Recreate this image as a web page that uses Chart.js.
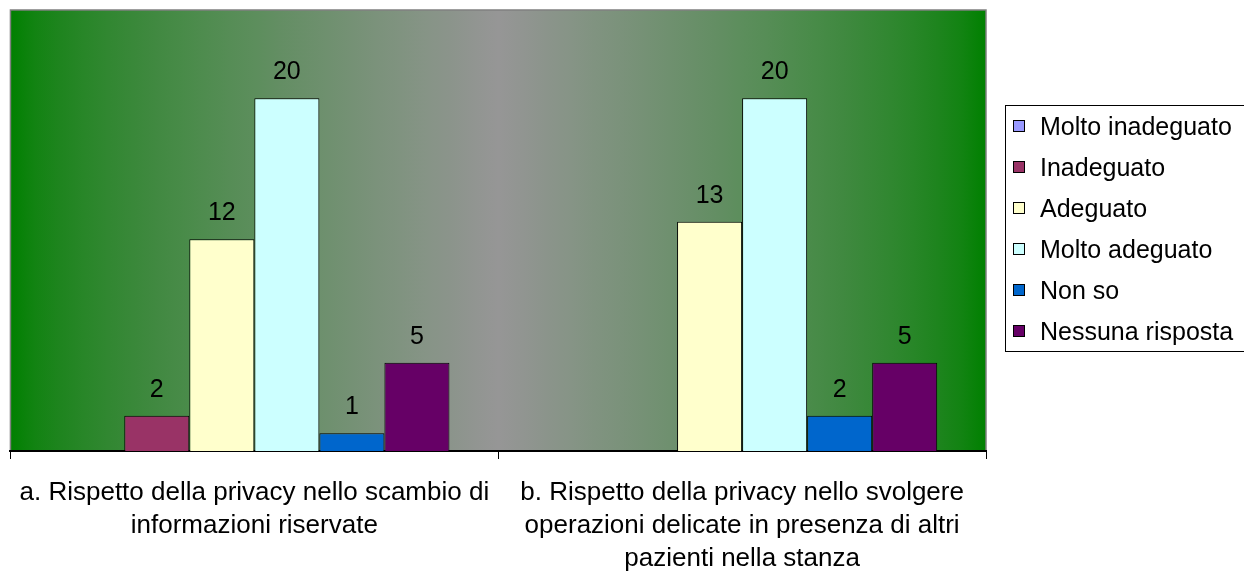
<!DOCTYPE html>
<html>
<head>
<meta charset="utf-8">
<script src="https://cdn.jsdelivr.net/npm/chart.js@4/dist/chart.umd.min.js"></script>
<style>
  html, body { margin: 0; padding: 0; background: #ffffff; }
  canvas { display: block; }
</style>
</head>
<body>
<canvas id="chart" width="1244" height="571"></canvas>
<script>
// Categories (multi-line axis labels)
const categories = [
  ["a. Rispetto della privacy nello scambio di", "informazioni riservate"],
  ["b. Rispetto della privacy nello svolgere", "operazioni delicate in presenza di altri", "pazienti nella stanza"]
];

// Response series
const seriesNames = ["Molto inadeguato", "Inadeguato", "Adeguato", "Molto adeguato", "Non so", "Nessuna risposta"];
const moltoInadeguato = [0, 0];
const inadeguato      = [2, 0];
const adeguato        = [12, 13];
const moltoAdeguato   = [20, 20];
const nonSo           = [1, 2];
const nessunaRisposta = [5, 5];
const seriesValues = [moltoInadeguato, inadeguato, adeguato, moltoAdeguato, nonSo, nessunaRisposta];
const seriesColors = ["#9999FF", "#993366", "#FFFFCC", "#CCFFFF", "#0066CC", "#660066"];

const yMax = 25;
const FONT = '"Liberation Sans", Arial, Helvetica, sans-serif';

// Plot background: green-grey-green horizontal gradient with grey frame.
// The blend eases out from the green edges towards the grey centre.
const plotBackground = {
  id: 'plotBackground',
  beforeDraw(chart) {
    const { ctx, chartArea: a } = chart;
    const g = ctx.createLinearGradient(a.left, 0, a.right, 0);
    const edge = [0, 128, 0], mid = [150, 150, 150];
    const mix = (k) => 'rgb(' + edge.map((c, n) => Math.round(c + (mid[n] - c) * k)).join(',') + ')';
    const steps = 20;
    for (let s = 0; s <= steps; s++) {
      const t = s / steps;               // 0..1 from edge to centre
      const k = Math.pow(t, 0.7);
      g.addColorStop(t * 0.5, mix(k));
      g.addColorStop(1 - t * 0.5, mix(k));
    }
    ctx.save();
    ctx.fillStyle = g;
    ctx.fillRect(a.left, a.top, a.right - a.left, a.bottom - a.top);
    ctx.strokeStyle = '#808080';
    ctx.lineWidth = 1.5;
    ctx.beginPath();
    ctx.moveTo(a.left, a.bottom);
    ctx.lineTo(a.left, a.top);
    ctx.lineTo(a.right, a.top);
    ctx.lineTo(a.right, a.bottom);
    ctx.stroke();
    ctx.restore();
  }
};

// Value labels above each non-zero bar
const valueLabels = {
  id: 'valueLabels',
  afterDatasetsDraw(chart) {
    const { ctx } = chart;
    ctx.save();
    ctx.font = '25px ' + FONT;
    ctx.fillStyle = '#000000';
    ctx.textAlign = 'center';
    ctx.textBaseline = 'middle';
    chart.data.datasets.forEach((ds, i) => {
      const meta = chart.getDatasetMeta(i);
      meta.data.forEach((bar, j) => {
        const v = ds.data[j];
        if (!v) return;
        ctx.fillText(String(v), bar.x, bar.y - 26);
      });
    });
    ctx.restore();
  }
};

// Boxed legend on the right
const boxLegend = {
  id: 'boxLegend',
  afterDraw(chart) {
    const { ctx } = chart;
    const left = 1005, top = 105, bottom = 351;
    ctx.save();
    ctx.strokeStyle = '#000000';
    ctx.lineWidth = 1;
    ctx.strokeRect(left + 0.5, top + 0.5, 400, bottom - top);
    ctx.font = '25px ' + FONT;
    ctx.textAlign = 'left';
    ctx.textBaseline = 'middle';
    chart.data.datasets.forEach((ds, i) => {
      const cy = 128 + i * 41;
      ctx.fillStyle = ds.backgroundColor;
      ctx.fillRect(1014, cy - 7, 10, 10);
      ctx.strokeRect(1013.5, cy - 7.5, 11, 11);
      ctx.fillStyle = '#000000';
      ctx.fillText(ds.label, 1040, cy);
    });
    ctx.restore();
  }
};

const datasets = seriesNames.map((name, i) => ({
  label: name,
  data: seriesValues[i],
  backgroundColor: seriesColors[i],
  borderColor: '#000000',
  borderWidth: 1,
  borderSkipped: 'start',
  barPercentage: 1,
  categoryPercentage: 0.8
}));

new Chart(document.getElementById('chart'), {
  type: 'bar',
  data: { labels: categories, datasets },
  options: {
    responsive: false,
    animation: false,
    events: [],
    layout: { padding: { left: 10, top: 10, right: 258, bottom: 0 } },
    plugins: {
      legend: { display: false },
      tooltip: { enabled: false }
    },
    scales: {
      x: {
        z: 1,
        grid: {
          offset: true,
          drawOnChartArea: false,
          drawTicks: true,
          tickLength: 8,
          color: '#000000',
          lineWidth: 1
        },
        border: { display: true, color: '#000000', width: 2 },
        ticks: {
          color: '#000000',
          font: { family: FONT, size: 26, lineHeight: 1.27 },
          padding: 17,
          maxRotation: 0,
          autoSkip: false
        },
        afterFit(scale) { scale.height = 120; }
      },
      y: {
        display: false,
        min: 0,
        max: yMax
      }
    }
  },
  plugins: [plotBackground, valueLabels, boxLegend]
});
</script>
</body>
</html>
